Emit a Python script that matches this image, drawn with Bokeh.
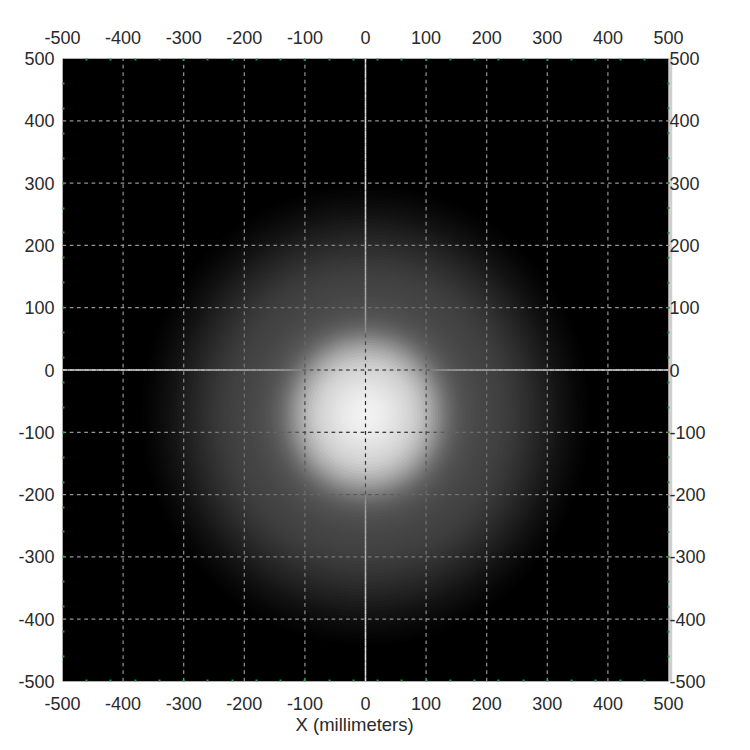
import numpy as np
from bokeh.plotting import figure
from bokeh.embed import file_html
from bokeh.resources import INLINE
from bokeh.models import LinearAxis, Range1d, FixedTicker, Title

tick_values = [-500, -400, -300, -200, -100, 0, 100, 200, 300, 400, 500]
minor_values = [-460, -420, -380, -340, -300, -260, -220, -180, -140, -100, -60, -20,
                20, 60, 100, 140, 180, 220, 260, 300, 340, 380, 420, 460]
x_label = "X (millimeters)"
spot_x = 0
spot_y = -72
ring_radius = [370, 365, 360, 355, 350, 345, 340, 335, 330, 325, 320, 315, 310, 305, 300, 295, 290, 285,
               280, 275, 270, 265, 260, 255, 250, 245, 240, 235, 230, 225, 220, 215, 210, 205, 200, 195,
               190, 185, 180, 175, 170, 165, 160, 156, 152, 148, 144, 140, 136, 132, 128, 124, 120,
               116, 112, 108, 104, 100, 95, 90, 85, 80, 75, 70, 65, 60, 55, 50, 45, 40, 35, 30, 25, 20, 15, 10]
ring_grey = [2, 3, 5, 6, 8, 10, 12, 14, 16, 18, 20, 23, 26, 28, 31, 33, 36, 38,
             41, 43, 46, 48, 50, 53, 55, 57, 59, 61, 62, 64, 65, 66, 67, 68, 69, 70,
             72, 73, 75, 77, 79, 82, 85, 88, 92, 96, 101, 107, 113, 120, 128, 136, 144,
             152, 160, 167, 174, 181, 189, 196, 202, 207, 211, 215, 218, 221, 224, 227, 229, 232, 234, 236, 238, 239, 240, 241]

FONT = "Liberation Sans"
GREEN = "#1f9a3a"
radius = np.array(ring_radius, dtype=float)
grey = np.array(ring_grey, dtype=float)
lo, hi = tick_values[0], tick_values[-1]
shadow_px = 4
plot_px = 606
shadow_end = hi + shadow_px * (hi - lo) / plot_px


def hexgrey(v):
    v = int(max(0, min(255, round(v))))
    return f"#{v:02x}{v:02x}{v:02x}"


def bg_at(x, y):
    r = np.hypot(x - spot_x, y - spot_y)
    out = np.zeros_like(r)
    for rr, g in zip(radius, grey):
        out[r <= rr] = g
    return out


p = figure(width=745, height=745, frame_width=plot_px + shadow_px, frame_height=623,
           x_range=Range1d(lo, shadow_end), y_range=Range1d(lo, hi),
           x_axis_location=None, y_axis_location=None,
           toolbar_location=None, output_backend="svg",
           min_border_left=62, min_border_top=58, min_border_right=73, min_border_bottom=64,
           background_fill_color="#ffffff", border_fill_color="#ffffff",
           outline_line_color=None)
p.grid.visible = False

p.quad(left=[hi], right=[shadow_end], bottom=[lo], top=[hi], fill_color="#cfcfcf", line_color=None)
p.quad(left=[lo], right=[hi], bottom=[lo], top=[hi], fill_color="#000000", line_color="#9a9a9a", line_width=1)

p.ellipse(x=[spot_x] * len(radius), y=[spot_y] * len(radius),
          width=list(2 * radius), height=list(2 * radius),
          fill_color=[hexgrey(g) for g in grey], line_color=None)

# dashed grid whose ink inverts over the picture behind it
period = 12.0
dash = 6.0
x0s, y0s, x1s, y1s, cols = [], [], [], [], []
for t in tick_values[1:-1]:
    s = np.arange(lo, hi, period)
    for horizontal in (True, False):
        xa = s if horizontal else np.full_like(s, t, dtype=float)
        ya = np.full_like(s, t, dtype=float) if horizontal else s
        b = bg_at(xa + (dash / 2 if horizontal else 0), ya + (0 if horizontal else dash / 2))
        for i in range(len(s)):
            x0s.append(xa[i]); y0s.append(ya[i])
            x1s.append(xa[i] + (dash if horizontal else 0))
            y1s.append(ya[i] + (0 if horizontal else dash))
            c = 150 - b[i] * 0.5 + 0 if b[i] < 110 else 95 - (b[i] - 110) * 0.45
            cols.append(hexgrey(c))
p.segment(x0s, y0s, x1s, y1s, line_color=cols, line_width=1.2)

# solid centre lines, only outside the bright core
s = np.arange(lo, hi, 4.0)
cx0, cy0, cx1, cy1, cc = [], [], [], [], []
for horizontal in (True, False):
    xa = s if horizontal else np.zeros_like(s)
    ya = np.zeros_like(s) if horizontal else s
    b = bg_at(xa, ya)
    for i in range(len(s)):
        if b[i] > 125:
            continue
        cx0.append(xa[i]); cy0.append(ya[i])
        cx1.append(xa[i] + (4 if horizontal else 0)); cy1.append(ya[i] + (0 if horizontal else 4))
        cc.append(hexgrey(225 - b[i] * 0.75))
p.segment(cx0, cy0, cx1, cy1, line_color=cc, line_width=1.5)

# green minor marks on the right edge of the black area
p.scatter(x=[hi] * len(minor_values), y=minor_values, marker="square", size=2,
          fill_color=GREEN, line_color=None)

overrides = {v: str(v) for v in tick_values}
for loc, standoff in (("below", 9), ("above", 9), ("left", 2), ("right", -9)):
    ax = LinearAxis(ticker=FixedTicker(ticks=tick_values, minor_ticks=minor_values if loc != "right" else []),
                    major_label_overrides=overrides)
    ax.axis_line_color = None
    ax.major_tick_line_color = None
    ax.minor_tick_line_color = GREEN
    ax.minor_tick_line_width = 2
    ax.minor_tick_in = 2
    ax.minor_tick_out = 0
    ax.major_label_standoff = standoff
    ax.major_label_text_font = FONT
    ax.major_label_text_font_size = "18px"
    ax.major_label_text_color = "#2a2a2a"
    p.add_layout(ax, loc)

p.add_layout(Title(text=x_label, align="left", offset=233, standoff=-2, text_font=FONT,
                   text_font_size="18.5px", text_font_style="normal", text_color="#2a2a2a"), "below")

open("out.html", "w").write(file_html(p, INLINE))
